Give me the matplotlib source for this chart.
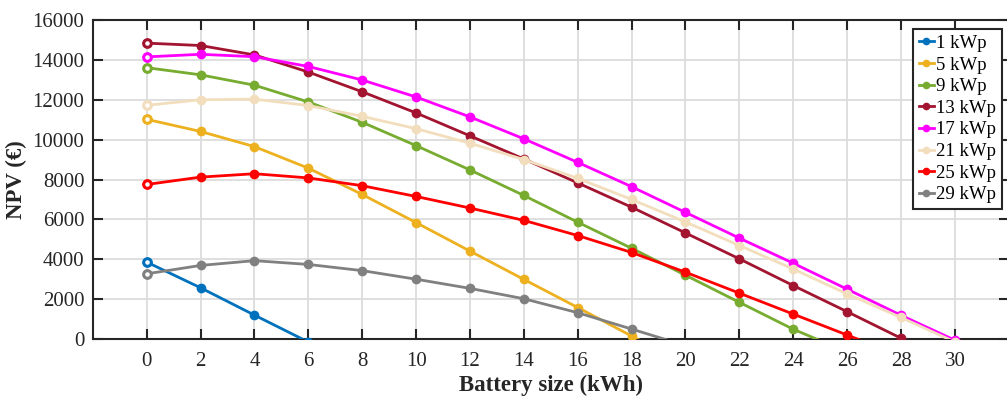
import numpy as np
import matplotlib
matplotlib.use('Agg')
import matplotlib.pyplot as plt

plt.rcParams['font.family'] = ['Liberation Serif', 'DejaVu Serif']

# battery sizes (kWh)
battery = [0, 2, 4, 6, 8, 10, 12, 14, 16, 18, 20, 22, 24, 26, 28, 30]

# NPV (EUR) per PV size; values below zero are clipped by the axis
npv_1 = [3860, 2570, 1200, -150]
npv_5 = [11020, 10410, 9650, 8570, 7250, 5840, 4410, 2990, 1580, 150, -1300]
npv_9 = [13610, 13250, 12730, 11890, 10870, 9700, 8480, 7200, 5860, 4550, 3200,
         1840, 490, -650]
npv_13 = [14840, 14720, 14250, 13390, 12400, 11340, 10190, 9030, 7830, 6610,
          5320, 4020, 2680, 1370, 40, -1300]
npv_17 = [14150, 14280, 14160, 13670, 12990, 12140, 11140, 10040, 8860, 7640,
          6350, 5060, 3800, 2500, 1190, -60]
npv_21 = [11720, 12000, 12030, 11710, 11170, 10550, 9820, 9000, 8060, 7000,
          5870, 4690, 3510, 2260, 1080, -150]
npv_25 = [7750, 8120, 8290, 8080, 7690, 7150, 6570, 5950, 5190, 4340, 3350,
          2300, 1250, 200, -850]
npv_29 = [3270, 3690, 3930, 3740, 3430, 3000, 2540, 2020, 1320, 500, -330]

labels = ['1 kWp', '5 kWp', '9 kWp', '13 kWp', '17 kWp', '21 kWp', '25 kWp', '29 kWp']
series = [npv_1, npv_5, npv_9, npv_13, npv_17, npv_21, npv_25, npv_29]
colors = ['#0072BD', '#EDB120', '#77AC30', '#A2142F',
          '#FF00FF', '#F2DEBD', '#FF0000', '#808080']

fig = plt.figure(figsize=(10.07, 3.96), dpi=100)
ax = fig.add_axes([0.0921, 0.1439, 0.9097, 0.8056])

for vals, lab, col in zip(series, labels, colors):
    x = battery[:len(vals)]
    ax.plot(x, vals, '-o', color=col, lw=2, ms=6, label=lab, zorder=3)
    # first point drawn with a light centre, as in the original
    ax.plot(x[:1], vals[:1], 'o', color=col, mfc='white', mew=2.2, ms=5.5,
            zorder=4)

ax.set_xlim(-2, 32)
ax.set_ylim(0, 16000)
ax.set_xticks(range(0, 31, 2))
ax.set_yticks(range(0, 16001, 2000))

ax.grid(True, color='#dcdcdc', lw=1.3)
ax.set_axisbelow(True)
for s in ax.spines.values():
    s.set_linewidth(1.5)
    s.set_color('#262626')
ax.tick_params(direction='in', length=7, width=1.5, top=True, right=True,
               labelsize=15, colors='#262626')
ax.tick_params(axis='x', pad=9)
ax.tick_params(axis='y', pad=6)

ax.set_xlabel('Battery size (kWh)', fontsize=16.5, fontweight='bold',
              labelpad=3, color='#262626')
ax.set_ylabel('NPV (€)', fontsize=16.5, fontweight='bold', labelpad=4,
              color='#262626')

leg = ax.legend(loc='upper right', bbox_to_anchor=(0.9922, 0.971),
                borderaxespad=0, fontsize=13.5, handlelength=0.8,
                handletextpad=0.12, labelspacing=0.24, borderpad=0.3,
                fancybox=False, framealpha=1, markerscale=0.75)
leg.get_frame().set_edgecolor('#262626')
leg.get_frame().set_linewidth(1.5)

fig.savefig('out.png', dpi=100)
